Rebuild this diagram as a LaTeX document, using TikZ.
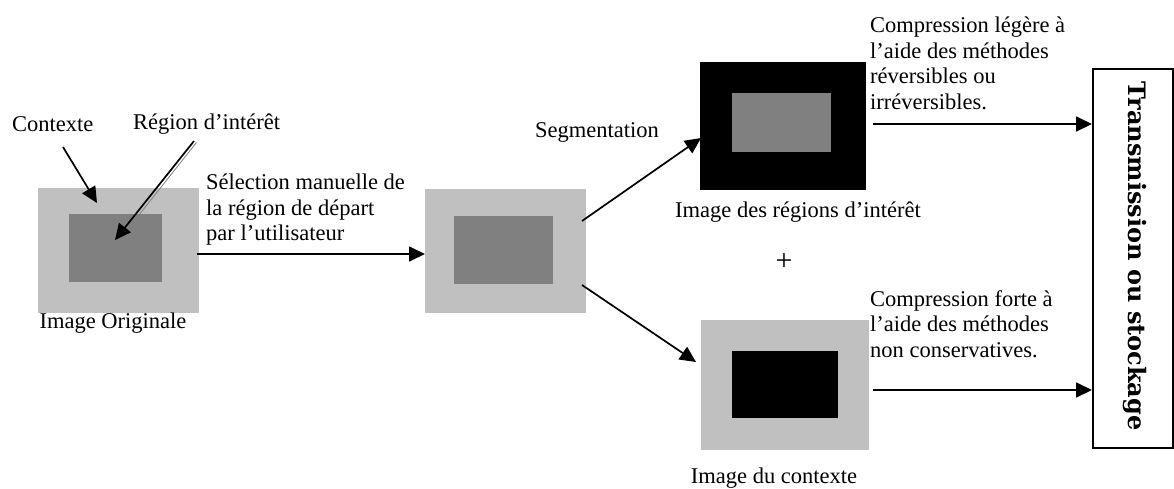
\documentclass[tikz,border=0pt]{standalone}
\usepackage{fontspec}
\setmainfont{Liberation Serif}
\newfontfamily\dvs{DejaVu Serif}
\usetikzlibrary{arrows.meta}
\definecolor{lg}{HTML}{C0C0C0}
\definecolor{dg}{HTML}{808080}
\begin{document}
\begin{tikzpicture}[x=1pt,y=-1pt,
  txt/.style={font=\fontsize{22.5}{25.5}\selectfont, inner sep=0pt, align=left},
  arr/.style={line width=1.7pt, -{Triangle[length=16pt,width=15pt]}},
  img/.style={anchor=north west, inner sep=0pt, outer sep=0pt, draw=none}]
\useasboundingbox (0,0) rectangle (1174,488);
% images
\node[img, fill=lg, minimum width=161pt, minimum height=125pt] (o1) at (38,188) {};
\node[img, fill=dg, minimum width=93pt, minimum height=68pt] (i1) at (69,214) {};
\node[img, fill=lg, minimum width=161pt, minimum height=124pt] (o2) at (425,189) {};
\node[img, fill=dg, minimum width=99pt, minimum height=68pt] (i2) at (454,216) {};
\node[img, fill=black, minimum width=166pt, minimum height=128pt] (o3) at (700,62) {};
\node[img, fill=dg, minimum width=99pt, minimum height=59pt] (i3) at (732,93) {};
\node[img, fill=lg, minimum width=168pt, minimum height=130pt] (o4) at (701,320) {};
\node[img, fill=black, minimum width=106pt, minimum height=67pt] (i4) at (732,351) {};
\node[draw, line width=1.5pt, anchor=north west, inner sep=0pt, minimum width=80pt, minimum height=379pt] (tr) at (1092,68) {};
\node[rotate=-90, inner sep=0pt, font=\dvs\bfseries\fontsize{24}{24}\selectfont] (trt) at (1135,256) {Transmission ou stockage};
% texts
\node[txt, anchor=west] (ctx) at (12,124) {Contexte};
\node[txt, anchor=west] (roi) at (133,124) {Région d’intérêt};
\node[txt, anchor=north west] (sel) at (206,174) {Sélection manuelle de\\la région de départ\\par l’utilisateur};
\node[txt] (io) at (113,323) {Image Originale};
\node[txt] (seg) at (597,132) {Segmentation};
\node[txt] (ir) at (798,212) {Image des régions d’intérêt};
\node[inner sep=0pt, font=\fontsize{30}{30}\selectfont] (plus) at (784,262) {+};
\node[txt] (ic) at (774,478) {Image du contexte};
\node[txt, anchor=north west] (c1) at (870,17) {Compression légère à\\l’aide des méthodes\\réversibles ou\\irréversibles.};
\node[txt, anchor=north west] (c2) at (870,290) {Compression forte à\\l’aide des méthodes\\non conservatives.};
% connectors
\coordinate (ca) at (63,147);
\coordinate (cb) at (97,203);
\draw[arr] (ca) -- (cb);
\coordinate (ra) at (194,141);
\coordinate (rb) at (115,240);
\draw[dg, line width=0.8pt] (196.5,142.5) -- (138.5,215.5);
\draw[arr] (ra) -- (rb);
\coordinate (sa) at (197,254);
\draw[arr] (sa) -- (sa -| o2.west);
\coordinate (ua) at (582,221);
\coordinate (ub) at (701,138);
\draw[arr] (ua) -- (ub);
\coordinate (da) at (582,285);
\coordinate (db) at (696,362);
\draw[arr] (da) -- (db);
\coordinate (ta) at (873,124);
\draw[arr] (ta) -- (ta -| tr.west);
\coordinate (tb) at (873,390);
\draw[arr] (tb) -- (tb -| tr.west);
\end{tikzpicture}
\end{document}
